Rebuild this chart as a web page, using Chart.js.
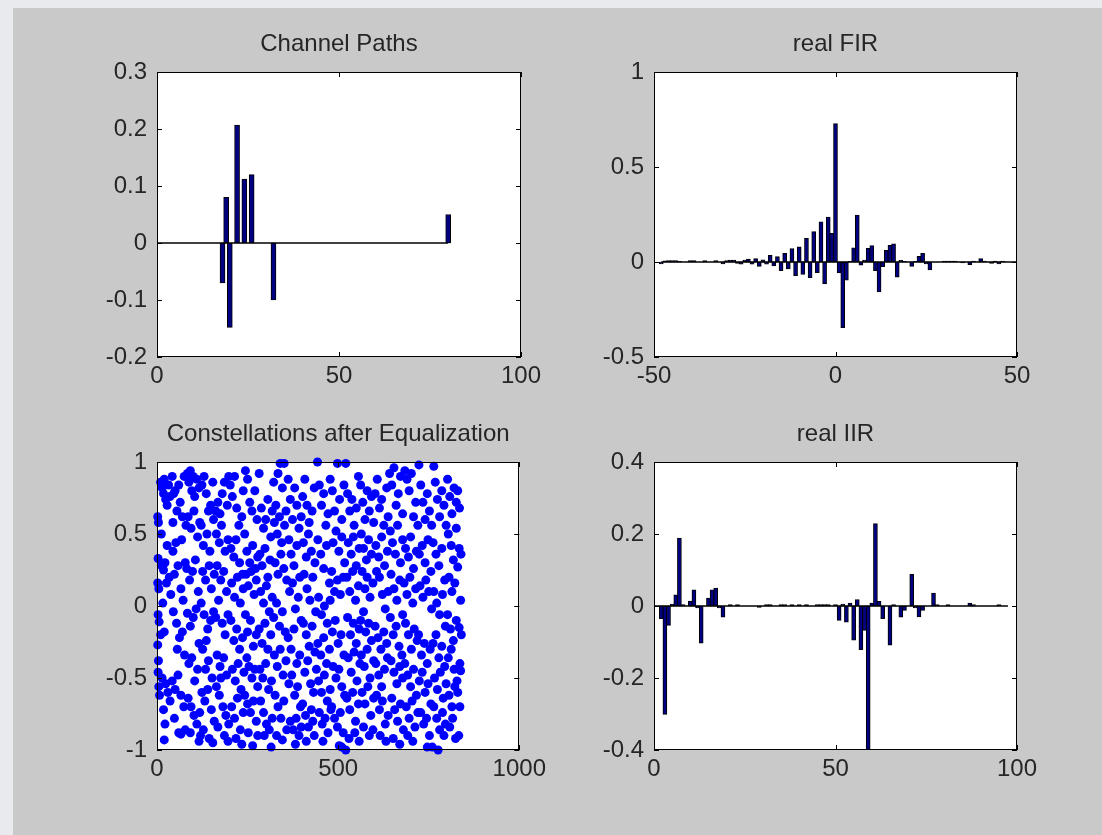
<!DOCTYPE html>
<html>
<head>
<meta charset="utf-8">
<script src="https://cdn.jsdelivr.net/npm/chart.js@4.4.1/dist/chart.umd.min.js"></script>
<style>
  body { margin: 0; width: 1102px; height: 835px; overflow: hidden; position: relative; background: #e8eaee; }
  #figure { position: absolute; left: 13px; top: 8px; width: 1089px; height: 827px; background: #c9c9c9; }
  canvas { position: absolute; }
</style>
</head>
<body>
<div id="figure"></div>
<canvas id="paths" width="464" height="370" style="left:87px;top:27px"></canvas>
<canvas id="fir" width="463" height="370" style="left:584px;top:27px"></canvas>
<canvas id="constel" width="464" height="373" style="left:87px;top:417px"></canvas>
<canvas id="iir" width="463" height="373" style="left:584px;top:417px"></canvas>
<script>
// Channel Paths
const pathX = [18, 19, 20, 22, 24, 26, 32, 80];
const pathY = [-0.07, 0.08, -0.148, 0.207, 0.112, 0.12, -0.1, 0.05];
const pathBase = [0, 80];
const pathXTicks = [0, 50, 100];
const pathYTicks = [-0.2, -0.1, 0, 0.1, 0.2, 0.3];

// real FIR
const firX = [
  -48, -47, -46, -45, -44, -43, -40, -39, -36, -33,
  -31, -30, -29, -28, -27, -26, -25, -24, -23, -22,
  -21, -20, -19, -18, -17, -16, -15, -14, -13, -12,
  -11, -10, -9, -8, -7, -6, -5, -4, -3, -2,
  -1, 0, 1, 2, 3, 4, 5, 6, 7, 8,
  9, 10, 11, 12, 13, 14, 15, 16, 17, 18,
  19, 21, 22, 23, 24, 25, 26, 30, 31, 32,
  33, 35, 37, 38, 40, 41, 43, 44, 45, 46,
];
const firY = [
  -0.01, 0.006, 0.008, 0.008, 0.008, 0.004, 0.008, 0.008, 0.008, 0.008,
  -0.01, 0.008, 0.01, 0.01, -0.008, -0.012, 0.01, 0.016, -0.012, 0.018,
  -0.023, 0.012, -0.012, 0.035, -0.02, 0.028, -0.045, 0.045, -0.037, 0.071,
  -0.072, 0.08, -0.066, 0.125, -0.082, 0.16, -0.056, 0.212, -0.115, 0.236,
  0.151, 0.728, -0.058, -0.345, -0.095, 0.004, 0.074, 0.247, -0.017, 0.01,
  0.072, 0.087, -0.045, -0.157, -0.025, 0.062, 0.088, 0.095, -0.08, 0.009,
  0.004, -0.023, 0.004, 0.03, 0.045, -0.01, -0.042, 0.005, 0.005, 0.005,
  0.005, -0.005, -0.014, 0.005, 0.018, 0.005, -0.008, 0.005, -0.01, 0.005,
];
const firBase = [-48, 50];
const firXTicks = [-50, 0, 50];
const firYTicks = [-0.5, 0, 0.5, 1];

// real IIR
const iirX = [
  2, 3, 4, 5, 6, 7, 8, 10, 11, 12,
  13, 15, 16, 17, 18, 19, 21, 23, 29, 31,
  32, 35, 36, 38, 40, 42, 45, 46, 47, 48,
  50, 51, 52, 53, 54, 55, 56, 57, 58, 59,
  60, 61, 62, 63, 65, 66, 68, 69, 71, 72,
  73, 74, 77, 78, 81, 87, 88, 95,
];
const iirY = [
  -0.035, -0.301, -0.054, 0.005, 0.031, 0.189, 0.004, 0.014, 0.045, -0.005,
  -0.103, 0.022, 0.045, 0.05, -0.005, -0.031, 0.004, 0.004, -0.004, 0.004,
  0.004, 0.004, 0.004, 0.004, 0.004, 0.004, 0.004, 0.004, 0.004, 0.004,
  0.004, -0.04, 0.005, -0.045, 0.008, -0.095, 0.018, -0.121, -0.068, -0.42,
  0.008, 0.229, 0.013, -0.035, -0.109, 0.004, -0.031, -0.012, 0.088, -0.005,
  -0.03, -0.012, 0.036, 0.004, 0.004, 0.008, 0.004, 0.004,
];
const iirBase = [0, 97.5];
const iirXTicks = [0, 50, 100];
const iirYTicks = [-0.4, -0.2, 0, 0.2, 0.4];

// Constellations after Equalization (sample index, value)
const eqPoints = [
  [2,0.62],[4,0.58],[3,0.33],[2,0.16],[5,0.12],[3,-0.06],[6,-0.11],[2,-0.27],[4,-0.38],[3,-0.46],
  [5,-0.56],[7,-0.62],[10,0.86],[14,0.82],[18,0.78],[20,0.88],[24,0.74],[28,0.7],[32,0.84],[36,0.76],
  [12,0.28],[18,0.25],[22,0.3],[26,0.16],[34,0.2],[16,0.02],[10,-0.2],[20,-0.18],[14,-0.5],[24,-0.54],
  [30,-0.6],[36,-0.66],[18,-0.72],[22,-0.82],[20,-0.93],[28,0.42],[12,0.5],[38,0.08],
  [42,0.9],[46,0.78],[50,0.8],[55,0.66],[60,0.84],[64,0.72],[70,0.62],[75,0.9],[44,0.38],[52,0.44],
  [48,0.22],[58,0.28],[66,0.12],[72,0.04],[78,0.3],[45,-0.04],[54,-0.12],[62,-0.22],[70,-0.18],[76,-0.34],
  [42,-0.52],[50,-0.58],[58,-0.48],[66,-0.62],[74,-0.7],[48,-0.78],[60,-0.88],[66,-0.89],[78,-0.86],[56,-0.3],
  [44,0.58],[68,0.46],[80,0.56],
  [84,0.92],[88,0.86],[92,0.94],[96,0.8],[100,0.9],[104,0.76],[110,0.88],[116,0.82],[86,0.62],[94,0.54],
  [102,0.66],[112,0.48],[118,0.58],[82,0.26],[90,0.18],[98,0.24],[106,0.32],[114,0.1],[84,-0.05],[92,-0.14],
  [100,-0.08],[108,-0.02],[116,-0.26],[88,-0.4],[96,-0.36],[104,-0.52],[112,-0.44],[86,-0.64],[94,-0.7],[102,-0.76],
  [110,-0.82],[118,-0.74],[92,-0.88],[116,-0.94],[120,-0.9],
  [124,0.84],[130,0.9],[136,0.78],[142,0.66],[148,0.7],[154,0.86],[122,0.56],[128,0.42],[138,0.5],[146,0.38],
  [156,0.6],[126,0.24],[134,0.18],[144,0.28],[150,0.12],[158,0.22],[122,0.02],[130,-0.06],[140,-0.16],[148,-0.1],
  [156,-0.04],[126,-0.3],[134,-0.44],[142,-0.38],[152,-0.5],[124,-0.6],[132,-0.66],[140,-0.58],[150,-0.72],[158,-0.8],
  [128,-0.86],[144,-0.92],[154,-0.95],[136,-0.24],
  [162,0.66],[168,0.72],[174,0.64],[180,0.78],[186,0.86],[194,0.7],[198,0.9],[164,0.5],[172,0.44],[178,0.56],
  [188,0.38],[196,0.46],[166,0.28],[176,0.18],[184,0.24],[192,0.1],[162,-0.08],[170,0.04],[180,-0.12],[188,-0.2],
  [196,-0.06],[166,-0.34],[174,-0.42],[184,-0.36],[192,-0.48],[164,-0.56],[172,-0.62],[182,-0.7],[190,-0.76],[198,-0.82],
  [168,-0.84],[186,-0.9],[196,-0.94],[176,-0.5],
  [202,0.84],[208,0.76],[214,0.9],[220,0.68],[226,0.56],[234,0.62],[238,0.8],[204,0.4],[212,0.34],[218,0.46],
  [228,0.3],[236,0.22],[206,0.16],[214,0.06],[222,0.2],[230,0.02],[238,0.12],[204,-0.1],[212,-0.24],[220,-0.16],
  [228,-0.3],[236,-0.22],[208,-0.44],[216,-0.52],[224,-0.4],[232,-0.58],[240,-0.46],[206,-0.7],[214,-0.78],[222,-0.64],
  [230,-0.86],[238,-0.74],[218,-0.92],[234,-0.96],
  [244,0.94],[250,0.88],[256,0.72],[262,0.66],[270,0.8],[276,0.6],[242,0.5],[248,0.38],[256,0.3],[264,0.42],
  [272,0.26],[278,0.34],[246,0.22],[252,0.14],[260,0.24],[268,0.08],[274,0.18],[244,-0.06],[250,-0.18],[258,-0.1],
  [266,-0.28],[274,-0.2],[248,-0.36],[254,-0.42],[262,-0.5],[270,-0.44],[278,-0.56],[242,-0.62],[250,-0.68],[258,-0.74],
  [266,-0.66],[274,-0.8],[252,-0.88],[264,-0.97],[278,-0.9],
  [282,0.92],[288,0.68],[294,0.54],[300,0.6],[306,0.74],[314,0.48],[318,0.66],[284,0.36],[290,0.28],[298,0.4],
  [306,0.2],[312,0.32],[286,0.1],[294,0.02],[302,0.14],[310,-0.04],[318,0.06],[282,-0.16],[290,-0.26],[298,-0.12],
  [306,-0.3],[314,-0.2],[284,-0.44],[292,-0.5],[300,-0.4],[308,-0.58],[316,-0.52],[286,-0.66],[294,-0.74],[302,-0.82],
  [310,-0.86],[318,-0.78],[296,-0.9],[315,-0.98],
  [322,0.86],[328,0.7],[334,0.92],[340,0.99],[346,0.82],[351,0.99],[356,0.66],[324,0.58],[332,0.5],[338,0.62],
  [344,0.44],[352,0.56],[326,0.3],[334,0.22],[342,0.36],[350,0.26],[358,0.18],[322,-0.08],[330,0.02],[338,-0.14],
  [346,-0.04],[354,-0.18],[324,-0.34],[332,-0.42],[340,-0.3],[348,-0.48],[356,-0.38],[326,-0.62],[334,-0.7],[342,-0.78],
  [350,-0.66],[358,-0.86],[330,-0.9],[346,-0.93],
  [362,0.88],[368,0.74],[374,0.6],[380,0.82],[386,0.7],[392,0.54],[398,0.62],[364,0.46],[370,0.36],[378,0.28],
  [386,0.42],[394,0.2],[366,0.1],[374,0.16],[382,-0.02],[390,0.06],[398,-0.1],[362,-0.22],[370,-0.3],[378,-0.16],
  [386,-0.4],[394,-0.34],[364,-0.54],[372,-0.48],[380,-0.62],[388,-0.56],[396,-0.7],[368,-0.8],[376,-0.86],[384,-0.78],
  [392,-0.9],[398,-0.84],[382,-0.96],
  [402,0.76],[408,0.88],[414,0.7],[420,0.58],[428,0.66],[434,0.82],[404,0.44],[412,0.34],[418,0.5],[426,0.38],
  [436,0.3],[406,0.22],[414,0.12],[422,0.04],[430,0.2],[438,-0.04],[404,-0.12],[412,-0.2],[420,-0.28],[428,-0.14],
  [436,-0.32],[408,-0.46],[416,-0.38],[424,-0.54],[432,-0.6],[440,-0.44],[402,-0.68],[410,-0.76],[418,-0.84],[426,-0.72],
  [434,-0.9],[412,-0.94],[430,-0.8],
  [443,1.0],[448,0.84],[454,0.7],[460,0.78],[466,0.56],[472,0.64],[478,0.88],[444,0.46],[452,0.36],[460,0.26],
  [468,0.42],[476,0.16],[446,0.06],[454,-0.06],[462,0.0],[470,-0.12],[478,0.04],[444,-0.26],[452,-0.34],[460,-0.22],
  [468,-0.4],[476,-0.3],[446,-0.52],[454,-0.6],[462,-0.48],[470,-0.66],[478,-0.58],[448,-0.74],[456,-0.82],[464,-0.78],
  [472,-0.88],[480,-0.72],[458,-0.94],
  [484,0.8],[490,0.66],[498,0.99],[504,0.74],[510,0.6],[516,0.84],[521,0.99],[486,0.44],[494,0.52],[502,0.38],
  [510,0.48],[518,0.3],[482,0.24],[490,0.1],[498,0.18],[506,0.08],[514,0.2],[484,-0.18],[492,-0.1],[500,-0.26],
  [508,-0.2],[516,-0.34],[486,-0.42],[494,-0.5],[502,-0.44],[510,-0.56],[518,-0.62],[482,-0.7],[490,-0.78],[498,-0.84],
  [506,-0.74],[514,-0.88],[503,-0.97],[521,-1.0],[510,-0.98],
  [526,0.78],[532,0.66],[538,0.74],[544,0.56],[550,0.68],[556,0.9],[528,0.44],[536,0.36],[542,0.48],[550,0.28],
  [558,0.4],[524,0.2],[532,0.1],[540,0.24],[548,0.04],[556,0.14],[526,-0.08],[534,-0.2],[542,-0.12],[550,-0.26],
  [558,-0.16],[528,-0.36],[536,-0.46],[544,-0.32],[552,-0.52],[560,-0.4],[524,-0.64],[532,-0.72],[540,-0.6],[548,-0.8],
  [556,-0.68],[530,-0.92],[546,-0.88],[558,-0.94],
  [562,0.84],[568,0.72],[574,0.6],[580,0.8],[586,0.66],[592,0.76],[598,0.58],[564,0.5],[570,0.4],[578,0.32],
  [584,0.46],[592,0.36],[566,0.24],[574,0.12],[580,0.2],[588,0.06],[596,0.16],[562,-0.1],[570,-0.04],[576,-0.18],
  [584,-0.12],[592,-0.24],[564,-0.34],[572,-0.42],[580,-0.3],[588,-0.5],[598,-0.38],[566,-0.6],[574,-0.68],[582,-0.56],
  [590,-0.76],[598,-0.64],[570,-0.84],[586,-0.9],[596,-0.86],
  [602,0.78],[608,0.88],[614,0.68],[620,0.74],[626,0.56],[634,0.82],[638,0.62],[604,0.42],[612,0.34],[620,0.48],
  [628,0.28],[636,0.38],[606,0.24],[614,0.2],[622,0.08],[630,-0.02],[638,0.1],[602,-0.14],[610,-0.22],[618,-0.3],
  [626,-0.18],[634,-0.26],[604,-0.4],[612,-0.48],[620,-0.56],[628,-0.44],[636,-0.36],[606,-0.62],[614,-0.72],[622,-0.66],
  [630,-0.82],[638,-0.76],[616,-0.9],[632,-0.94],
  [642,0.92],[648,0.84],[654,0.96],[660,0.7],[666,0.78],[672,0.9],[678,0.64],[644,0.52],[650,0.44],[658,0.36],
  [664,0.56],[672,0.3],[678,0.46],[646,0.22],[654,0.12],[662,0.04],[670,0.18],[678,-0.06],[644,-0.08],[652,-0.2],
  [660,-0.14],[668,-0.28],[676,-0.34],[646,-0.38],[654,-0.46],[662,-0.54],[670,-0.42],[678,-0.5],[648,-0.64],[656,-0.72],
  [664,-0.8],[672,-0.68],[680,-0.86],[652,-0.92],[670,-0.96],
  [684,0.94],[690,0.88],[696,0.8],[702,0.92],[708,0.62],[714,0.72],[720,0.56],[686,0.4],[694,0.34],[700,0.48],
  [708,0.26],[716,0.38],[682,0.16],[690,0.08],[698,0.2],[706,0.02],[714,0.12],[686,-0.12],[694,-0.2],[702,-0.3],
  [710,-0.16],[718,-0.24],[684,-0.4],[692,-0.48],[700,-0.56],[708,-0.44],[716,-0.62],[688,-0.7],[696,-0.78],[704,-0.66],
  [712,-0.84],[720,-0.74],[692,-0.9],[706,-0.94],
  [723,0.98],[728,0.84],[734,0.72],[740,0.6],[746,0.78],[752,0.66],[758,0.56],[724,0.36],[732,0.42],[740,0.3],
  [748,0.46],[756,0.24],[726,0.14],[734,0.06],[742,0.18],[750,0.1],[758,-0.02],[722,-0.2],[730,-0.34],[738,-0.26],
  [746,-0.4],[754,-0.3],[724,-0.52],[732,-0.46],[740,-0.6],[748,-0.54],[756,-0.68],[728,-0.74],[736,-0.82],[744,-0.78],
  [752,-0.9],[746,-0.98],[760,-0.98],
  [764,0.97],[768,0.86],[774,0.74],[780,0.62],[786,0.8],[792,0.7],[798,0.56],[762,0.44],[770,0.36],[778,0.28],
  [786,0.4],[794,0.18],[764,0.1],[772,0.02],[780,-0.06],[788,0.08],[796,-0.14],[762,-0.26],[770,-0.2],[778,-0.36],
  [786,-0.28],[794,-0.42],[766,-0.5],[774,-0.58],[782,-0.46],[790,-0.64],[798,-0.54],[764,-0.7],[772,-0.78],[780,-0.86],
  [788,-0.74],[796,-0.82],[776,-1.0],[792,-0.9],
  [802,0.88],[808,0.76],[814,0.64],[820,0.82],[826,0.72],[830,0.8],[835,0.68],[804,0.5],[812,0.42],[818,0.32],
  [826,0.54],[834,0.4],[839,0.36],[806,0.2],[814,0.1],[822,0.16],[830,0.27],[838,0.04],[802,-0.06],[810,-0.16],
  [818,-0.24],[826,-0.1],[834,-0.15],[840,-0.2],[804,-0.36],[812,-0.3],[820,-0.44],[828,-0.52],[836,-0.4],[838,-0.45],
  [806,-0.62],[814,-0.7],[822,-0.56],[830,-0.6],[836,-0.7],[808,-0.84],[816,-0.78],[824,-0.92],[833,-0.9],
];
const eqXTicks = [0, 500, 1000];
const eqYTicks = [-1, -0.5, 0, 0.5, 1];

const FONT = "'Liberation Sans', Arial, sans-serif";
const TEXT = '#262626';

// white plot box, inward ticks on all four sides, title above
const matlabAxes = {
  id: 'matlabAxes',
  beforeDraw(chart) {
    const { ctx, chartArea: a } = chart;
    ctx.save();
    ctx.fillStyle = '#ffffff';
    ctx.fillRect(a.left, a.top, a.width, a.height);
    ctx.restore();
  },
  afterDraw(chart, args, opts) {
    const { ctx, chartArea: a, scales } = chart;
    const tl = 5;
    ctx.save();
    ctx.strokeStyle = '#000';
    ctx.lineWidth = 1;
    ctx.beginPath();
    scales.x.ticks.forEach((t) => {
      const px = Math.round(scales.x.getPixelForValue(t.value)) + 0.5;
      ctx.moveTo(px, a.bottom);
      ctx.lineTo(px, a.bottom - tl);
      ctx.moveTo(px, a.top);
      ctx.lineTo(px, a.top + tl);
    });
    scales.y.ticks.forEach((t) => {
      const py = Math.round(scales.y.getPixelForValue(t.value)) + 0.5;
      ctx.moveTo(a.left, py);
      ctx.lineTo(a.left + tl, py);
      ctx.moveTo(a.right, py);
      ctx.lineTo(a.right - tl, py);
    });
    ctx.stroke();
    ctx.strokeRect(Math.round(a.left) + 0.5, Math.round(a.top) + 0.5,
      Math.round(a.width) - 1, Math.round(a.height) - 1);
    ctx.fillStyle = TEXT;
    ctx.font = '24px ' + FONT;
    ctx.textAlign = 'center';
    ctx.textBaseline = 'middle';
    ctx.fillText(opts.title, (a.left + a.right) / 2, a.top - 28);
    ctx.restore();
  },
};

function makeScale(min, max, tickValues, isX) {
  return {
    type: 'linear',
    min: min,
    max: max,
    offset: false,
    grid: { display: false, drawTicks: false },
    border: { display: false },
    afterBuildTicks: (scale) => {
      scale.ticks = tickValues.map((v) => ({ value: v }));
    },
    afterFit: (scale) => {
      if (isX) scale.height = 40;
      else scale.width = 70;
    },
    ticks: {
      font: { family: FONT, size: 24 },
      color: TEXT,
      padding: isX ? 5 : 10,
      maxRotation: 0,
      autoSkip: false,
      callback: (v) => String(v),
    },
  };
}

function makeOptions(title, xr, yr) {
  return {
    responsive: false,
    animation: false,
    events: [],
    layout: { padding: { top: 45, right: 30, left: 0, bottom: 0 } },
    plugins: {
      legend: { display: false },
      tooltip: { enabled: false },
      matlabAxes: { title: title },
    },
    scales: {
      x: makeScale(xr[0], xr[1], xr[2], true),
      y: makeScale(yr[0], yr[1], yr[2], false),
    },
  };
}

function toPoints(xs, ys) {
  return xs.map((x, i) => ({ x: x, y: ys[i] }));
}

function stemChart(id, title, xs, ys, base, xr, yr, thickness) {
  return new Chart(document.getElementById(id), {
    type: 'bar',
    plugins: [matlabAxes],
    data: {
      datasets: [
        {
          type: 'line',
          data: base.map((x) => ({ x: x, y: 0 })),
          borderColor: '#000',
          borderWidth: 1.5,
          pointRadius: 0,
          order: 0,
        },
        {
          data: toPoints(xs, ys),
          backgroundColor: '#000080',
          borderColor: '#000',
          borderWidth: 1,
          borderSkipped: false,
          barThickness: thickness,
          order: 1,
        },
      ],
    },
    options: makeOptions(title, xr, yr),
  });
}

stemChart('paths', 'Channel Paths', pathX, pathY, pathBase,
  [0, 100, pathXTicks], [-0.2, 0.3, pathYTicks], 5);
stemChart('fir', 'real FIR', firX, firY, firBase,
  [-50, 50, firXTicks], [-0.5, 1, firYTicks], 4);
stemChart('iir', 'real IIR', iirX, iirY, iirBase,
  [0, 100, iirXTicks], [-0.4, 0.4, iirYTicks], 4);

new Chart(document.getElementById('constel'), {
  type: 'scatter',
  plugins: [matlabAxes],
  data: {
    datasets: [
      {
        data: eqPoints.map((p) => ({ x: p[0], y: p[1] })),
        backgroundColor: '#0000ff',
        borderWidth: 0,
        pointRadius: 4.5,
        clip: false,
      },
    ],
  },
  options: makeOptions('Constellations after Equalization', [0, 1000, eqXTicks], [-1, 1, eqYTicks]),
});
</script>
</body>
</html>
